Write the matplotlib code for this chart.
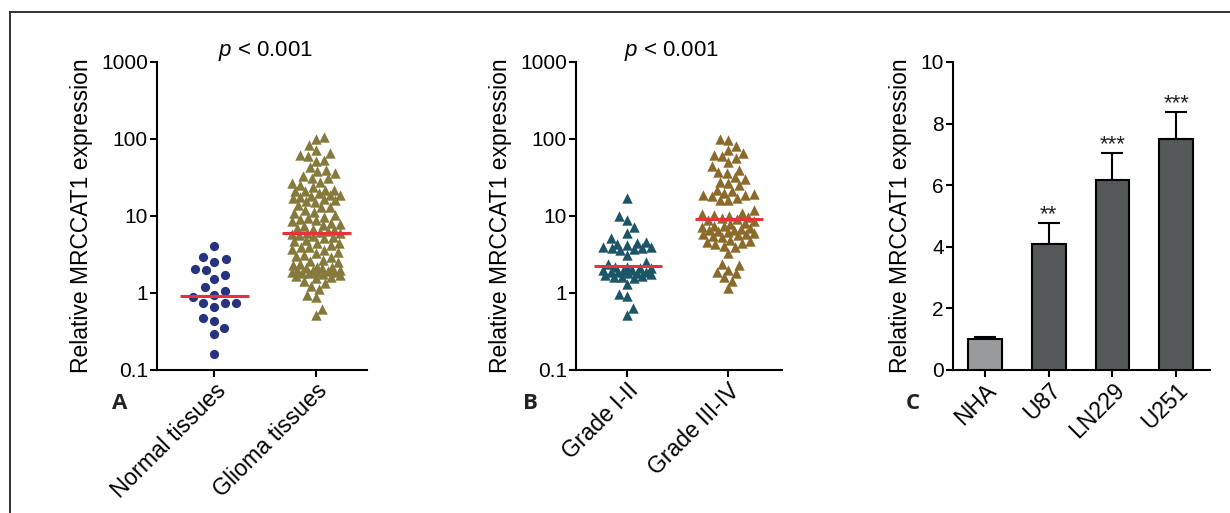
import numpy as np
import matplotlib
matplotlib.use("Agg")
import matplotlib.pyplot as plt
from matplotlib.lines import Line2D

plt.rcParams['font.family'] = ['Liberation Sans', 'DejaVu Sans']
plt.rcParams['mathtext.fontset'] = 'custom'
plt.rcParams['mathtext.it'] = 'Liberation Sans:italic'
plt.rcParams['mathtext.rm'] = 'Liberation Sans'

# panel A
groups_a = ["Normal tissues", "Glioma tissues"]
normal = [4.1, 2.9, 2.55, 2.74, 2.07, 1.99, 1.70, 1.52, 1.19, 0.94, 1.06,
          0.89, 0.75, 0.75, 0.75, 0.66, 0.48, 0.43, 0.35, 0.29, 0.16]
glioma = [105, 99, 84, 72, 65, 62, 60, 54, 52,
          43, 40, 38, 36, 33, 31, 31,
          28, 26.5, 25, 24, 22, 22, 21, 21, 20, 19, 18.7, 18.2, 17.8, 17, 16.5, 16.1, 15.7, 15.2,
          14, 13, 12.9, 12, 11.4, 10.8, 10.2,
          9.8, 9.3, 9.0, 8.9, 8.5, 8.2, 7.9, 7.6, 7.3, 7.0, 6.8, 6.6, 6.4, 6.2, 6.0, 6.0,
          5.8, 5.6, 5.5, 5.3, 5.1,
          4.9, 4.7, 4.5, 4.4, 4.2, 4.0, 3.9, 3.7, 3.6, 3.4, 3.3, 3.1, 3.0,
          2.9, 2.7, 2.6, 2.5, 2.4, 2.3, 2.2, 2.2, 2.1, 2.1, 2.0, 2.0, 2.0, 1.95, 1.9, 1.9,
          1.85, 1.8, 1.8, 1.75, 1.7, 1.65, 1.6, 1.55,
          1.45, 1.35, 1.25, 1.12, 0.95, 0.88, 0.62, 0.52]
medians_a = [0.92, 6.0]

# panel B
groups_b = ["Grade I-II", "Grade III-IV"]
grade_low = [17, 10, 8.9, 7.1, 6.0, 5.1, 4.6, 4.4, 4.3, 4.2, 4.0, 3.9, 3.8, 3.8, 3.7, 3.6,
             3.1, 2.5, 2.4, 2.2, 2.2, 2.1, 2.1, 2.0, 2.0, 1.95, 1.9, 1.9, 1.85, 1.8, 1.8,
             1.75, 1.7, 1.65, 1.6, 1.6, 1.55, 1.3, 0.97, 0.9, 0.63, 0.52]
grade_high = [100, 98, 80, 72, 65, 62, 60, 56, 50, 44,
              40, 37, 36, 32, 30, 28, 27, 25, 22, 21,
              20, 19.5, 19, 18.5, 18, 17, 16, 16, 12, 11,
              10.5, 10.2, 10, 9.8, 9.5, 9.2, 8.8, 8.5, 8, 7.8, 7.5, 7.4,
              7.2, 7, 6.8, 6.6, 6.5, 6.3, 6.2, 6, 5.9, 5.8, 5.6, 5.5,
              5.3, 4.9, 4.8, 4.6, 4.4, 4.3, 4.1, 3.9, 3.3, 2.4, 2.3, 2.0,
              1.9, 1.8, 1.6, 1.45, 1.15]
medians_b = [2.25, 9.0]

# panel C
cells = ["NHA", "U87", "LN229", "U251"]
expr = [1.0, 4.1, 6.18, 7.5]
expr_err = [0.08, 0.68, 0.88, 0.88]
stars = ["", "**", "***", "***"]

PX_DECADE = 77.0  # pixels per decade on the log axes


def swarm(vals, d, wmax):
    # beeswarm in pixel units, returns x offsets in pixels
    y = np.log10(vals) * PX_DECADE
    cand = np.arange(0, wmax + 0.01, 0.5)
    xs = np.zeros(len(y))
    px, py = [], []
    flip = 1
    for i in np.argsort(y, kind="stable"):
        best, bestc, bestd = None, 0.0, -1.0
        for c0 in cand:
            for c in ((c0,) if c0 == 0 else (flip * c0, -flip * c0)):
                if px:
                    dist = np.min(np.hypot(np.array(px) - c, np.array(py) - y[i]))
                else:
                    dist = np.inf
                if dist >= d:
                    best = c
                    break
                if dist > bestd:
                    bestd, bestc = dist, c
            if best is not None:
                break
        if best is None:
            best = bestc
        if best != 0:
            flip = -flip
        xs[i] = best
        px.append(best)
        py.append(y[i])
    return xs


def dot_panel(ax, data, colors, markers, sizes, medians, labels, xlim, px_unit,
              widths, dists, p_x):
    for i, vals in enumerate(data):
        x = i + swarm(vals, dists[i], widths[i]) / px_unit
        ax.scatter(x, vals, s=sizes[i], marker=markers[i], color=colors[i],
                   linewidths=0, zorder=3)
        ax.plot([i - 0.33, i + 0.34], [medians[i], medians[i]], color="#e8323a",
                lw=2.2, zorder=4, solid_capstyle="butt")
    ax.set_yscale("log")
    ax.set_ylim(0.1, 1000)
    ax.set_yticks([0.1, 1, 10, 100, 1000])
    ax.set_yticklabels(["0.1", "1", "10", "100", "1000"])
    ax.yaxis.set_minor_locator(matplotlib.ticker.NullLocator())
    ax.set_xlim(*xlim)
    ax.set_xticks(range(len(labels)))
    ax.set_xticklabels(labels, rotation=45, ha="right", rotation_mode="anchor")
    ax.set_ylabel("Relative MRCCAT1 expression", fontsize=16.5, labelpad=6)
    ax.text(p_x, 0.997, r"$\it{p}$ < 0.001", transform=ax.get_xaxis_transform(),
            ha="center", va="bottom", fontsize=16)


def style(ax):
    for s in ["top", "right"]:
        ax.spines[s].set_visible(False)
    for s in ["left", "bottom"]:
        ax.spines[s].set_linewidth(1.5)
    ax.tick_params(width=1.5, length=5, labelsize=15, pad=1.5)
    ax.tick_params(axis="x", labelsize=16.5)


fig = plt.figure(figsize=(12.3, 5.13), dpi=100)

axA = fig.add_axes([0.1276, 0.2788, 0.1707, 0.6004])
dot_panel(axA, [normal, glioma], ["#27337f", "#857a3b"], ["o", "^"], [44, 56],
          medians_a, groups_a, (-0.559, 1.5), 102.0, [24, 24], [11.5, 8.5], 0.51)
style(axA)

axB = fig.add_axes([0.4683, 0.2788, 0.1675, 0.6004])
dot_panel(axB, [grade_low, grade_high], ["#1b5567", "#8c6a2c"], ["^", "^"], [56, 56],
          medians_b, groups_b, (-0.505, 1.53), 101.0, [24, 26], [8.5, 8.5], 0.44)
style(axB)

axC = fig.add_axes([0.7748, 0.2788, 0.209, 0.6004])
xc = np.arange(len(cells))
axC.bar(xc, expr, width=0.53, color=["#999a9c", "#545859", "#545859", "#545859"],
        edgecolor="black", linewidth=1.5, zorder=3)
axC.errorbar(xc, expr, yerr=[np.zeros(len(expr)), expr_err], fmt="none",
             ecolor="black", elinewidth=1.5, capsize=8, capthick=1.5, zorder=2)
for i, st in enumerate(stars):
    axC.text(xc[i], expr[i] + expr_err[i] - 0.08, st, ha="center", va="bottom",
             fontsize=16, color="#222222")
axC.set_ylim(0, 10)
axC.set_yticks([0, 2, 4, 6, 8, 10])
axC.set_xlim(-0.5, 3.53)
axC.set_xticks(xc)
axC.set_xticklabels(cells, rotation=45, ha="right", rotation_mode="anchor")
axC.set_ylabel("Relative MRCCAT1 expression", fontsize=16.5, labelpad=6)
style(axC)

# panel letters
for x, lab in [(0.0976, "A"), (0.4309, "B"), (0.7423, "C")]:
    fig.text(x, 0.214, lab, fontsize=16, fontweight="bold", family="Open Sans",
             ha="center", va="center", color="#222222")

# figure frame (top and left only)
fig.add_artist(Line2D([10 / 1230, 1.0], [1 - 12 / 513, 1 - 12 / 513],
                      transform=fig.transFigure, color="#333333", lw=1.4))
fig.add_artist(Line2D([10 / 1230, 10 / 1230], [0.0, 1 - 12 / 513],
                      transform=fig.transFigure, color="#333333", lw=1.4))

fig.savefig("out.png", dpi=100)
